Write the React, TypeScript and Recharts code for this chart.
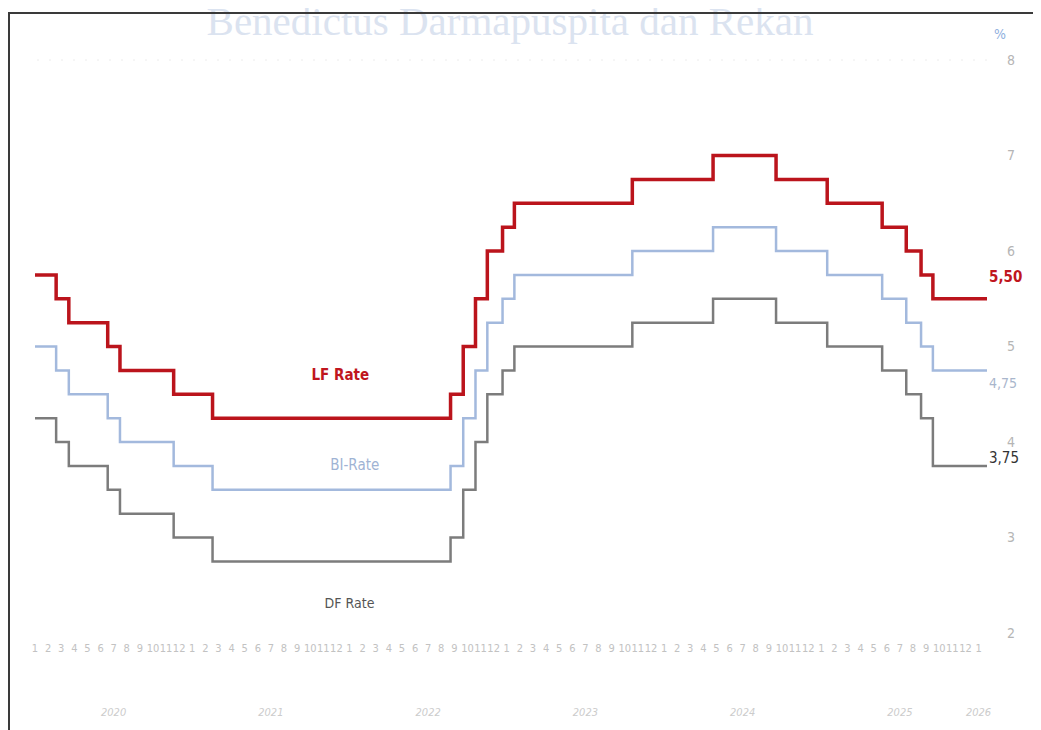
import React from 'react';
import { LineChart, Line, XAxis, YAxis, ReferenceDot, ReferenceLine } from 'recharts';

const FONT = "'Liberation Sans Narrow', 'DejaVu Sans Condensed', 'Open Sans', sans-serif";

// BI policy decisions (effective date) and the three corridor rates, in %
const dates = [
	'2020-01-01', '2020-02-20', '2020-03-19', '2020-06-18', '2020-07-16', '2020-11-19',
	'2021-02-18', '2022-08-23', '2022-09-22', '2022-10-20', '2022-11-17', '2022-12-22',
	'2023-01-19', '2023-10-19', '2024-04-24', '2024-09-18', '2025-01-15', '2025-05-21',
	'2025-07-16', '2025-08-20', '2025-09-17', '2026-01-21',
];
const lfRate = [5.75, 5.5, 5.25, 5.0, 4.75, 4.5, 4.25, 4.5, 5.0, 5.5, 6.0, 6.25, 6.5, 6.75, 7.0, 6.75, 6.5, 6.25, 6.0, 5.75, 5.5, 5.5];
const biRate = [5.0, 4.75, 4.5, 4.25, 4.0, 3.75, 3.5, 3.75, 4.25, 4.75, 5.25, 5.5, 5.75, 6.0, 6.25, 6.0, 5.75, 5.5, 5.25, 5.0, 4.75, 4.75];
const dfRate = [4.25, 4.0, 3.75, 3.5, 3.25, 3.0, 2.75, 3.0, 3.5, 4.0, 4.5, 4.75, 5.0, 5.25, 5.5, 5.25, 5.0, 4.75, 4.5, 4.25, 3.75, 3.75];

// axis labels
const monthLabels = ['1', '2', '3', '4', '5', '6', '7', '8', '9', '10', '11', '12'];
const yearLabels = ['2020', '2021', '2022', '2023', '2024', '2025', '2026'];
const yearTicks = [6, 18, 30, 42, 54, 66, 72];
const yTicks = [2, 3, 4, 5, 6, 7, 8];

// months since Jan 2020
const toMonth = (d: string) => {
	const [y, m, day] = d.split('-').map(Number);
	return (y - 2020) * 12 + (m - 1) + (day - 1) / 31;
};

const data = dates.map((d, i) => ({
	t: toMonth(d),
	lf: lfRate[i],
	bi: biRate[i],
	df: dfRate[i],
}));

const monthTicks = monthLabels.concat(monthLabels, monthLabels, monthLabels, monthLabels, monthLabels, ['1']).map((_, i) => i);

const MonthTick = (props: any) => {
	const { x, y, payload } = props;
	const v = payload.value;
	const yi = yearTicks.indexOf(v);
	return (
		<g>
			<text x={x} y={y + 15} dy='0.35em' textAnchor='middle' fill='#c2c2c2' fontSize={11} fontFamily={FONT}>
				{monthLabels[v % 12]}
			</text>
			{yi >= 0 && (
				<text x={x} y={y + 79} dy='0.35em' textAnchor='middle' fill='#cccccc' fontSize={11} fontStyle='italic' fontFamily={FONT}>
					{yearLabels[yi]}
				</text>
			)}
		</g>
	);
};

// value label at the last step of a series
const endLabel = (color: string, dy: number, weight: number, size: number) => (p: any) =>
	p.index === data.length - 1 ? (
		<text x={p.x + 2} y={p.y + dy} dy='0.35em' textAnchor='start' fill={color} fontSize={size} fontWeight={weight} fontFamily={FONT}>
			{Number(p.value).toFixed(2).replace('.', ',')}
		</text>
	) : null;

export default function App() {
	return (
		<div style={{ position: 'relative', width: 1033, height: 722, fontFamily: FONT }}>
			{/* faint header text */}
			<div
				style={{
					position: 'absolute',
					top: -7,
					left: 0,
					width: 1004,
					textAlign: 'center',
					fontFamily: "'Liberation Serif', serif",
					fontSize: 41,
					lineHeight: 1,
					color: '#dbe3f0',
					whiteSpace: 'nowrap',
				}}
			>
				Benedictus Darmapuspita dan Rekan
			</div>
			{/* frame */}
			<div style={{ position: 'absolute', top: 4, left: 0, width: 1033, height: 2, background: '#3a3a3a' }} />
			<div style={{ position: 'absolute', top: 4, left: 0, width: 2, height: 718, background: '#3a3a3a' }} />
			<div style={{ position: 'absolute', top: 18, left: 986, fontSize: 14, color: '#8fb0de' }}>%</div>

			<LineChart width={1033} height={722} data={data} margin={{ top: 52, right: 0, left: 27, bottom: 0 }}>
				<XAxis
					dataKey='t'
					type='number'
					domain={[0, 'dataMax']}
					ticks={monthTicks}
					interval={0}
					height={97}
					axisLine={false}
					tickLine={false}
					tickSize={0}
					tickMargin={0}
					tick={<MonthTick />}
				/>
				<YAxis
					orientation='right'
					domain={[2, 8]}
					ticks={yTicks}
					width={54}
					axisLine={false}
					tickLine={false}
					tickSize={0}
					tickMargin={20}
					tick={{ fill: '#b5b5b5', fontSize: 14, fontFamily: FONT, textAnchor: 'start' }}
				/>
				<ReferenceLine y={8} stroke='#ececec' strokeDasharray='2 10' />

				<Line
					dataKey='df'
					type='stepAfter'
					stroke='#7c7c7c'
					strokeWidth={2.5}
					dot={false}
					activeDot={false}
					isAnimationActive={false}
					label={endLabel('#333333', -8, 400, 15)}
				/>
				<Line
					dataKey='bi'
					type='stepAfter'
					stroke='#a3b9dd'
					strokeWidth={2.5}
					dot={false}
					activeDot={false}
					isAnimationActive={false}
					label={endLabel('#a9b6cc', 13, 400, 14)}
				/>
				<Line
					dataKey='lf'
					type='stepAfter'
					stroke='#bb141c'
					strokeWidth={3.5}
					dot={false}
					activeDot={false}
					isAnimationActive={false}
					label={endLabel('#c0161e', -22, 700, 15)}
				/>

				<ReferenceDot
					x={23.3}
					y={4.71}
					r={0}
					fill='none'
					stroke='none'
					label={{ value: 'LF Rate', position: 'center', fill: '#c0161e', fontSize: 15, fontWeight: 700, fontFamily: FONT }}
				/>
				<ReferenceDot
					x={24.4}
					y={3.76}
					r={0}
					fill='none'
					stroke='none'
					label={{ value: 'BI-Rate', position: 'center', fill: '#9fb3d4', fontSize: 15, fontFamily: FONT }}
				/>
				<ReferenceDot
					x={24.0}
					y={2.31}
					r={0}
					fill='none'
					stroke='none'
					label={{ value: 'DF Rate', position: 'center', fill: '#555555', fontSize: 14, fontFamily: FONT }}
				/>
			</LineChart>
		</div>
	);
}
